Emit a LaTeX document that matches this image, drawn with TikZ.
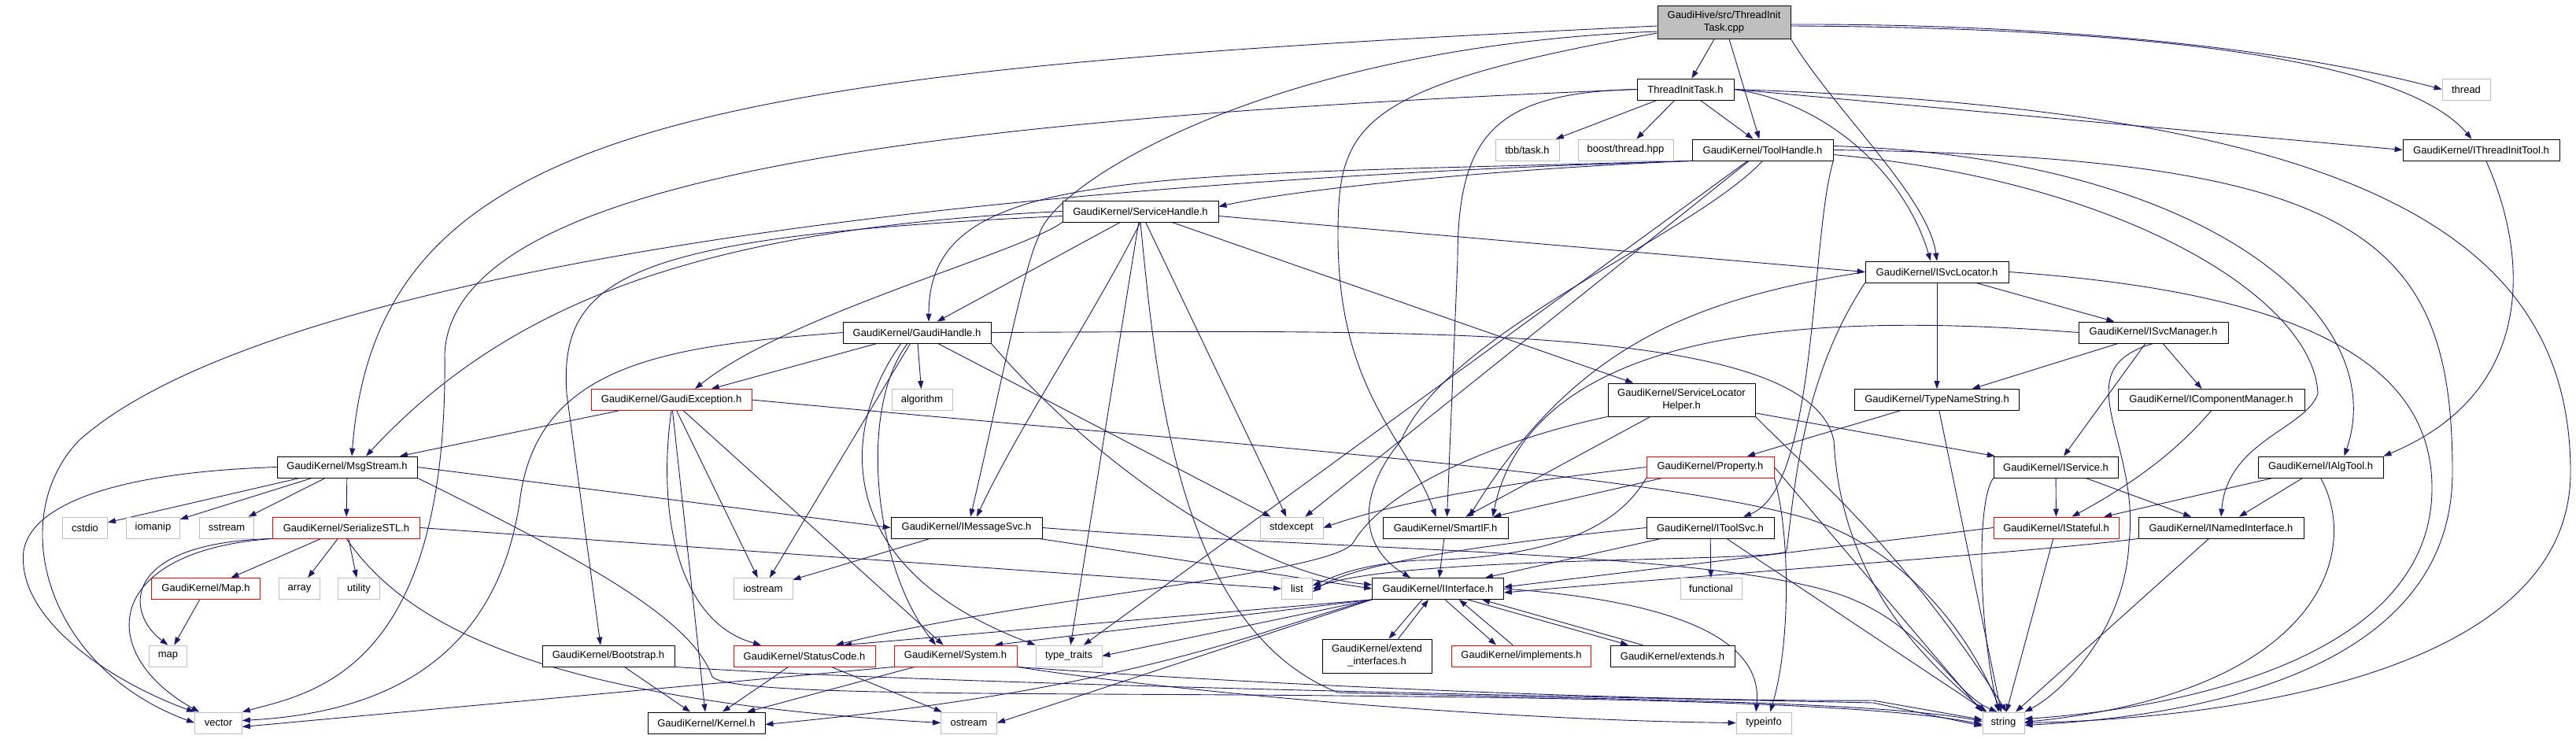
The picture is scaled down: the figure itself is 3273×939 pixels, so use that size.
\documentclass[tikz,border=0pt]{standalone}
\usepackage{fontspec}
\setmainfont{Liberation Sans}
\usetikzlibrary{arrows.meta}
\definecolor{edgeblue}{HTML}{191970}
\definecolor{sysgray}{HTML}{BFBFBF}
\definecolor{rootgray}{HTML}{BFBFBF}
\pgfdeclarelayer{background}
\pgfsetlayers{background,main}
\begin{document}
\begin{tikzpicture}[x=1pt, y=-1pt,
    hdr/.style={draw=black, fill=white, line width=0.8pt, inner sep=0pt,
        minimum height=27, align=center, font=\fontsize{13}{16}\selectfont},
    syshdr/.style={hdr, draw=sysgray},
    trunc/.style={hdr, draw=red},
    rootfile/.style={hdr, fill=rootgray},
    dep/.style={draw=edgeblue, line width=0.9pt, -{Triangle[length=10pt,width=7pt]}}]
        \useasboundingbox (0,0) rectangle (3273,939);
        % Draw the root file and the first level.
        \node[rootfile, minimum width=169, minimum height=42] (cpp) at (2190.5,28) {GaudiHive/src/ThreadInit\\Task.cpp};
        \node[hdr, minimum width=123] (tith) at (2141.5,113.5) {ThreadInitTask.h};
        \node[syshdr, minimum width=61] (thread) at (3133.5,113.5) {thread};
        \node[syshdr, minimum width=81] (tbb) at (1940.5,190.5) {tbb/task.h};
        \node[syshdr, minimum width=121] (boost) at (2065.5,190.5) {boost/thread.hpp};
        \node[hdr, minimum width=179] (toolh) at (2239.5,190.5) {GaudiKernel/ToolHandle.h};
        \node[hdr, minimum width=199] (ithr) at (3152.5,190.5) {GaudiKernel/IThreadInitTool.h};
        % Specify the handles and the service locator.
        \node[hdr, minimum width=198] (svch) at (1449,268.5) {GaudiKernel/ServiceHandle.h};
        \node[hdr, minimum width=182] (isvcloc) at (2461,345.5) {GaudiKernel/ISvcLocator.h};
        \node[hdr, minimum width=188] (gaudih) at (1165,422.5) {GaudiKernel/GaudiHandle.h};
        \node[hdr, minimum width=190] (isvcman) at (2736,422.5) {GaudiKernel/ISvcManager.h};
        \node[trunc, minimum width=204] (gexc) at (853,508) {GaudiKernel/GaudiException.h};
        \node[syshdr, minimum width=77] (algo) at (1171.5,508) {algorithm};
        \node[hdr, minimum width=187, minimum height=42] (slh) at (2136.5,508) {GaudiKernel/ServiceLocator\\Helper.h};
        \node[hdr, minimum width=209] (tns) at (2461,508) {GaudiKernel/TypeNameString.h};
        \node[hdr, minimum width=237] (icm) at (2809.5,508) {GaudiKernel/IComponentManager.h};
        % Specify the middle rows.
        \node[hdr, minimum width=178] (msgs) at (441,593.5) {GaudiKernel/MsgStream.h};
        \node[trunc, minimum width=162] (prop) at (2173,593.5) {GaudiKernel/Property.h};
        \node[hdr, minimum width=158] (isvc) at (2612,593.5) {GaudiKernel/IService.h};
        \node[hdr, minimum width=159] (ialg) at (2948.5,593.5) {GaudiKernel/IAlgTool.h};
        \node[syshdr, minimum width=57] (cstdio) at (108,670.5) {cstdio};
        \node[syshdr, minimum width=68] (iomanip) at (194.5,670.5) {iomanip};
        \node[syshdr, minimum width=69] (sstream) at (288,670.5) {sstream};
        \node[trunc, minimum width=187] (sstl) at (440,670.5) {GaudiKernel/SerializeSTL.h};
        \node[hdr, minimum width=192] (imsg) at (1228,670.5) {GaudiKernel/IMessageSvc.h};
        \node[syshdr, minimum width=80] (stdexc) at (1641,670.5) {stdexcept};
        \node[hdr, minimum width=159] (smartif) at (1836.5,670.5) {GaudiKernel/SmartIF.h};
        \node[hdr, minimum width=162] (itoolsvc) at (2173,670.5) {GaudiKernel/IToolSvc.h};
        \node[trunc, minimum width=159] (istate) at (2612.5,670.5) {GaudiKernel/IStateful.h};
        \node[hdr, minimum width=210] (inamed) at (2822,670.5) {GaudiKernel/INamedInterface.h};
        \node[trunc, minimum width=138] (maph) at (261.5,748) {GaudiKernel/Map.h};
        \node[syshdr, minimum width=52] (array) at (380.5,748) {array};
        \node[syshdr, minimum width=53] (utility) at (456,748) {utility};
        \node[syshdr, minimum width=75] (iostream) at (969.5,748) {iostream};
        \node[syshdr, minimum width=39] (list) at (1648,748) {list};
        \node[hdr, minimum width=167] (iint) at (1827,748) {GaudiKernel/IInterface.h};
        \node[syshdr, minimum width=78] (functional) at (2174,748) {functional};
        % Specify the lower rows.
        \node[syshdr, minimum width=48] (map) at (213.5,833.5) {map};
        \node[hdr, minimum width=168] (boot) at (773,833.5) {GaudiKernel/Bootstrap.h};
        \node[trunc, minimum width=180] (statc) at (1022,833.5) {GaudiKernel/StatusCode.h};
        \node[trunc, minimum width=156] (system) at (1214,833.5) {GaudiKernel/System.h};
        \node[syshdr, minimum width=84] (typetr) at (1358,833.5) {type\_traits};
        \node[hdr, minimum width=139, minimum height=43] (extif) at (1749.5,833.5) {GaudiKernel/extend\\\_interfaces.h};
        \node[trunc, minimum width=177] (impl) at (1933,833.5) {GaudiKernel/implements.h};
        \node[hdr, minimum width=158] (extends) at (2125,833.5) {GaudiKernel/extends.h};
        \node[syshdr, minimum width=60] (vector) at (277.5,918.5) {vector};
        \node[hdr, minimum width=149] (kernel) at (897.5,918.5) {GaudiKernel/Kernel.h};
        \node[syshdr, minimum width=71] (ostream) at (1231,918.5) {ostream};
        \node[syshdr, minimum width=70] (typeinfo) at (2241,918.5) {typeinfo};
        \node[syshdr, minimum width=53] (string) at (2545.5,918.5) {string};
        \begin{pgfonlayer}{background}
        \fill[white] (0,0) rectangle (3273,939);
        % Draw the includes of the root file.
        \draw[dep] (cpp) -- (tith);
        \draw[dep] (cpp) -- (toolh);
        \draw[dep] (cpp.south east) .. controls (2330,140) and (2450,250) .. (isvcloc.north);
        \draw[dep] ([yshift=-3pt]cpp.east) .. controls (2600,30) and (2900,60) .. (thread.west);
        \draw[dep] ([yshift=-5pt]cpp.east) .. controls (2700,35) and (3050,70) .. ([xshift=-12pt]ithr.north);
        \draw[dep] ([yshift=-5pt]cpp.west) .. controls (900,90) and (480,150) .. ([xshift=6pt]msgs.north);
        \draw[dep] ([yshift=-12pt]cpp.west) .. controls (1600,60) and (1330,240) .. (1320,300) .. controls (1300,340) and (1270,500) .. ([xshift=5pt]imsg.north);
        \draw[dep] ([yshift=-14pt]cpp.west) .. controls (1720,110) and (1700,160) .. (1700,300) .. controls (1700,500) and (1790,560) .. ([xshift=-12pt]smartif.north);
        % Draw the includes of ThreadInitTask.h.
        \draw[dep] (tith) -- (tbb);
        \draw[dep] (tith) -- (boost);
        \draw[dep] (tith) -- ([xshift=-12pt]toolh.north);
        \draw[dep] (tith.east) -- (ithr.west);
        \draw[dep] (tith.east) .. controls (2320,130) and (2420,220) .. ([xshift=-8pt]isvcloc.north);
        \draw[dep] (tith.west) .. controls (1900,118) and (1852,170) .. (1852,330) -- ([xshift=2pt]smartif.north);
        \draw[dep] (tith.west) .. controls (1200,150) and (575,220) .. (565,450) .. controls (570,850) and (400,880) .. (vector.north east);
        \draw[dep] (tith.east) .. controls (3000,140) and (3266,300) .. (3266,600) .. controls (3266,880) and (2750,915) .. (string.east);
        % Draw the includes of ToolHandle.h.
        \draw[dep] (toolh.south west) .. controls (1900,215) and (1650,240) .. ([yshift=6pt]svch.east);
        \draw[dep] (toolh.south west) .. controls (1450,225) and (1180,210) .. ([xshift=15pt]gaudih.north);
        \draw[dep] (toolh.south west) .. controls (1000,240) and (300,380) .. (100,560) .. controls (5,660) and (60,850) .. (vector.west);
        \draw[dep] ([yshift=5pt]toolh.east) .. controls (2800,200) and (3040,400) .. ([xshift=30pt]ialg.north);
        \draw[dep] (toolh.south east) .. controls (2300,300) and (2310,620) .. ([xshift=42pt]itoolsvc.north);
        \draw[dep] ([yshift=-6pt]toolh.east) .. controls (2700,230) and (2940,380) .. (2945,500) .. controls (2930,545) and (2830,560) .. (inamed.north);
        \draw[dep] (toolh.east) .. controls (3000,200) and (3116,300) .. (3116,600) .. controls (3116,870) and (2750,912) .. ([yshift=-3pt]string.east);
        \draw[dep] (toolh) -- (stdexc);
        \draw[dep] (toolh) -- (typetr);
        \draw[dep] (toolh.south) .. controls (2150,300) and (1840,420) .. (1780,560) .. controls (1730,620) and (1720,690) .. ([xshift=-35pt]iint.north);
        \draw[dep] (ithr) .. controls (3215,330) and (3220,500) .. (ialg.north east);
        % Draw the includes of ServiceHandle.h.
        \draw[dep] (svch) -- (gaudih);
        \draw[dep] ([yshift=-6pt]svch.east) -- (isvcloc.west);
        \draw[dep] (svch) -- (slh);
        \draw[dep] (svch.south west) .. controls (1300,320) and (1000,400) .. ([xshift=30pt]gexc.north);
        \draw[dep] (svch.west) .. controls (900,290) and (650,380) .. ([xshift=24pt]msgs.north);
        \draw[dep] ([yshift=-6pt]svch.west) .. controls (800,300) and (710,350) .. (720,500) -- ([xshift=-10pt]boot.north);
        \draw[dep] (svch.south) .. controls (1390,400) and (1290,550) .. ([xshift=13pt]imsg.north);
        \draw[dep] (svch) -- (typetr);
        \draw[dep] (svch) -- (stdexc);
        \draw[dep] (svch.south) .. controls (1470,500) and (1500,800) .. (1700,880) .. controls (2000,888) and (2380,890) .. ([yshift=2pt]string.west);
        % Draw the includes of GaudiHandle.h.
        \draw[dep] (gaudih) -- (gexc);
        \draw[dep] (gaudih) -- (algo);
        \draw[dep] (gaudih) -- (iostream);
        \draw[dep] ([xshift=-12pt]gaudih.south) .. controls (1090,520) and (1110,720) .. ([xshift=-25pt]system.north);
        \draw[dep] ([xshift=-20pt]gaudih.south) .. controls (1070,540) and (1050,720) .. (typetr.north west);
        \draw[dep] (gaudih.west) .. controls (850,440) and (680,460) .. (660,640) .. controls (630,830) and (500,905) .. ([yshift=3pt]vector.east);
        \draw[dep] (gaudih) -- (stdexc);
        \draw[dep] (gaudih.south east) .. controls (1400,600) and (1600,730) .. ([yshift=5pt]iint.west);
        \draw[dep] (gaudih.east) .. controls (1800,420) and (2300,410) .. (2330,560) .. controls (2340,750) and (2460,850) .. ([xshift=4pt]string.north west);
        % Draw the includes of GaudiException.h.
        \draw[dep] (gexc) -- (msgs);
        \draw[dep] (gexc.south) .. controls (835,650) and (860,790) .. ([xshift=-55pt]statc.north);
        \draw[dep] (gexc) -- (system);
        \draw[dep] (gexc) -- (iostream);
        \draw[dep] (gexc) -- (kernel);
        \draw[dep] (gexc.east) .. controls (1500,560) and (2100,600) .. (2300,660) .. controls (2420,700) and (2500,800) .. ([xshift=-3pt]string.north);
        % Draw the includes of MsgStream.h and SerializeSTL.h.
        \draw[dep] (msgs) -- (cstdio);
        \draw[dep] (msgs) -- (iomanip);
        \draw[dep] (msgs) -- (sstream);
        \draw[dep] (msgs) -- (sstl);
        \draw[dep] (msgs.east) -- (imsg.west);
        \draw[dep] (msgs.west) .. controls (150,600) and (40,640) .. (30,700) .. controls (20,790) and (150,870) .. (vector.north west);
        \draw[dep] (msgs.south east) .. controls (760,720) and (880,790) .. (905,860) .. controls (930,885) and (1300,880) .. (1700,884) .. controls (2000,887) and (2380,892) .. ([yshift=-2pt]string.west);
        \draw[dep] (sstl) -- (maph);
        \draw[dep] (sstl) -- (array);
        \draw[dep] (sstl) -- (utility);
        \draw[dep] (sstl.south west) .. controls (150,690) and (160,780) .. (map.north);
        \draw[dep] (sstl.south west) .. controls (130,700) and (120,830) .. ([xshift=6pt]vector.north west);
        \draw[dep] (sstl.east) -- (list.west);
        \draw[dep] (sstl.south) .. controls (520,800) and (700,890) .. (ostream.west);
        \draw[dep] (maph) -- (map);
        % Draw the includes of IMessageSvc.h, Bootstrap.h, StatusCode.h and System.h.
        \draw[dep] (imsg) -- (iostream);
        \draw[dep] (imsg) -- (iint.west);
        \draw[dep] (imsg.east) .. controls (1700,700) and (2200,700) .. (2350,760) .. controls (2450,800) and (2480,880) .. ([xshift=-8pt]string.north);
        \draw[dep] (boot) -- (kernel);
        \draw[dep] (boot.south east) .. controls (1200,870) and (2000,885) .. (2380,893) -- ([yshift=-4pt]string.west);
        \draw[dep] (statc) -- (kernel);
        \draw[dep] (statc) -- (ostream);
        \draw[dep] (system) -- (kernel);
        \draw[dep] (system.south west) -- ([yshift=-5pt]vector.east);
        \draw[dep] (system.south east) .. controls (1500,880) and (1900,915) .. (typeinfo.west);
        \draw[dep] (system.south east) .. controls (1600,870) and (2100,892) .. (2380,890) -- ([yshift=4pt]string.west);
        % Draw the includes of ServiceLocatorHelper.h.
        \draw[dep] (slh.south west) .. controls (1900,560) and (1760,620) .. (1719,690) .. controls (1690,730) and (1300,760) .. ([xshift=40pt]statc.north);
        \draw[dep] (slh) -- (smartif);
        \draw[dep] (slh) -- (isvc);
        \draw[dep] (slh.south east) .. controls (2300,600) and (2420,700) .. ([xshift=4pt]string.north);
        % Draw the includes of ISvcLocator.h and ISvcManager.h.
        \draw[dep] (isvcloc) -- (isvcman);
        \draw[dep] (isvcloc) -- (tns);
        \draw[dep] (isvcloc.west) .. controls (2150,380) and (2000,440) .. ([xshift=30pt]smartif.north);
        \draw[dep] (isvcloc.south west) .. controls (2290,480) and (2280,620) .. (2270,700) .. controls (2260,715) and (1780,705) .. (list.east);
        \draw[dep] (isvcloc.east) .. controls (2900,370) and (3090,450) .. (3090,620) .. controls (3090,860) and (2700,905) .. ([yshift=5pt]string.east);
        \draw[dep] (isvcman) -- (tns);
        \draw[dep] (isvcman) -- (isvc);
        \draw[dep] (isvcman) -- (icm);
        \draw[dep] (isvcman.west) .. controls (2350,400) and (1950,400) .. ([xshift=60pt]smartif.north);
        \draw[dep] (isvcman.south) .. controls (2620,470) and (2720,560) .. (2705,690) .. controls (2700,800) and (2620,880) .. (string.north east);
        \draw[dep] (tns) -- (prop);
        \draw[dep] (tns) -- (string);
        \draw[dep] (icm.south) .. controls (2760,580) and (2700,620) .. ([xshift=20pt]istate.north);
        % Draw the includes of Property.h and IToolSvc.h.
        \draw[dep] (prop.west) .. controls (1950,610) and (1800,630) .. (stdexc.east);
        \draw[dep] (prop) -- (smartif);
        \draw[dep] (prop.south west) .. controls (2050,680) and (1950,710) .. (1800,712) .. controls (1720,718) and (1690,735) .. ([yshift=4pt]list.east);
        \draw[dep] (prop.south east) .. controls (2275,680) and (2275,820) .. ([xshift=8pt]typeinfo.north);
        \draw[dep] (prop.east) -- (string.north west);
        \draw[dep] (smartif) -- (iint);
        \draw[dep] (itoolsvc) -- (functional);
        \draw[dep] (itoolsvc) -- ([xshift=60pt]iint.north);
        \draw[dep] (itoolsvc.west) .. controls (1900,690) and (1720,715) .. ([yshift=-4pt]list.east);
        \draw[dep] (itoolsvc) -- (string);
        % Draw the includes of the interfaces.
        \draw[dep] (istate.west) -- ([yshift=2pt]iint.east);
        \draw[dep] (istate) -- (string);
        \draw[dep] (inamed.south west) .. controls (2600,700) and (2300,720) .. ([yshift=-5pt]iint.east);
        \draw[dep] (inamed) -- (string);
        \draw[dep] (isvc) -- (istate);
        \draw[dep] (isvc) -- (inamed);
        \draw[dep] (isvc.south west) .. controls (2510,640) and (2515,800) .. ([xshift=-6pt]string.north);
        \draw[dep] (ialg) -- (istate);
        \draw[dep] (ialg) -- (inamed);
        \draw[dep] (ialg.south) .. controls (3000,700) and (2950,880) .. ([yshift=1pt]string.east);
        % Draw the includes of IInterface.h.
        \draw[dep] (iint.south west) -- ([xshift=50pt]statc.north);
        \draw[dep] (iint.south west) -- ([xshift=50pt]system.north);
        \draw[dep] (iint.south west) .. controls (1600,800) and (1450,875) .. ([yshift=-2pt]kernel.east);
        \draw[dep] (iint.south west) -- (ostream.east);
        \draw[dep] (iint.south west) -- (typetr.east);
        \draw[dep] ([xshift=-20pt]iint.south) -- ([xshift=15pt]extif.north);
        \draw[dep] ([xshift=9pt]iint.south) -- ([xshift=-32pt]impl.north);
        \draw[dep] ([xshift=38pt]iint.south) -- ([xshift=-56pt]extends.north);
        \draw[dep] (iint.east) .. controls (2150,765) and (2240,820) .. ([xshift=-10pt]typeinfo.north);
        \draw[dep] ([xshift=27pt]extif.north) -- ([xshift=-12pt]iint.south);
        \draw[dep] ([xshift=-11pt]impl.north) -- ([xshift=27pt]iint.south);
        \draw[dep] ([xshift=-38pt]extends.north) -- ([xshift=56pt]iint.south);
        \end{pgfonlayer}
    \end{tikzpicture}
\end{document}
